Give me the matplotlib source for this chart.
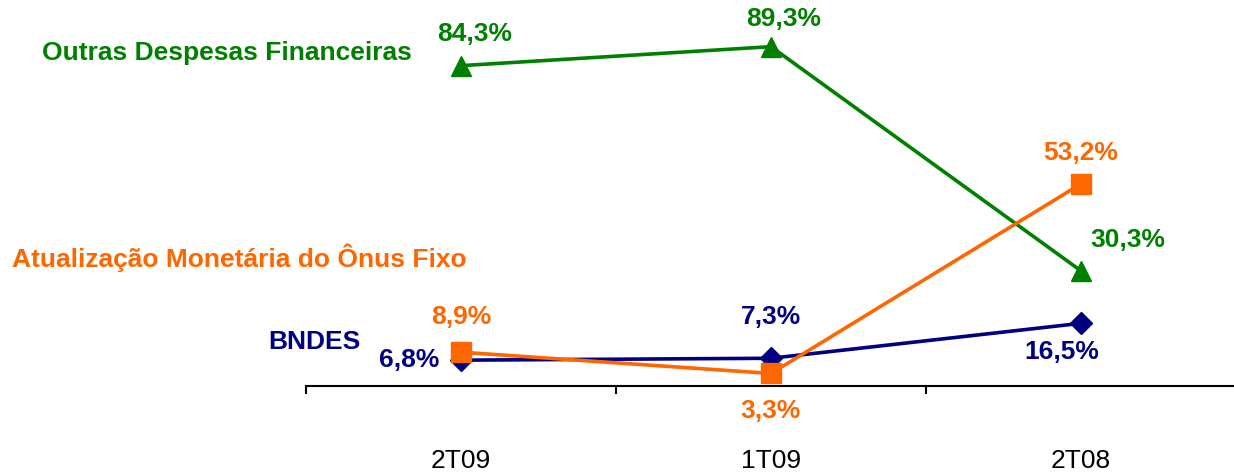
import matplotlib
matplotlib.use('Agg')
import matplotlib.pyplot as plt

plt.rcParams['font.family'] = ['Liberation Sans', 'DejaVu Sans']

periods = ['2T09', '1T09', '2T08']
outras = [84.3, 89.3, 30.3]
onus_fixo = [8.9, 3.3, 53.2]
bndes = [6.8, 7.3, 16.5]

GREEN = '#008000'
ORANGE = '#FF6600'
NAVY = '#000080'
FS = 19


def pct(v):
    return f'{v:.1f}%'.replace('.', ',')


fig = plt.figure(figsize=(12.34, 4.72), dpi=100)
ax = fig.add_axes([306 / 1234, 86 / 472, 930 / 1234, 380 / 472])

x = range(len(periods))
ax.plot(x, outras, color=GREEN, lw=2.6, marker='^', ms=14, zorder=3)
ax.plot(x, bndes, color=NAVY, lw=2.6, marker='D', ms=11, zorder=3)
ax.plot(x, onus_fixo, color=ORANGE, lw=2.6, marker='s', ms=14, zorder=4)

ax.set_xlim(-0.5, 2.5)
ax.set_ylim(0, 100)

# value labels: (series, color, per-point offsets in points)
label_spec = [
    (outras, GREEN, [(10, 23), (9, 20), (34, 22)]),
    (onus_fixo, ORANGE, [(0, 25), (0, -27), (0, 22)]),
    (bndes, NAVY, [(-37, 0), (0, 30), (-14, -21)]),
]
for vals, color, offsets in label_spec:
    for i, (v, off) in enumerate(zip(vals, offsets)):
        ax.annotate(pct(v), (i, v), xytext=off, textcoords='offset points',
                    ha='center', va='center', color=color,
                    fontsize=FS, fontweight='bold')

# series names on the left
fig.text(42 / 1234, 1 - 53 / 472, 'Outras Despesas Financeiras', color=GREEN,
         fontsize=FS, fontweight='bold', ha='left', va='center')
fig.text(12 / 1234, 1 - 258 / 472, 'Atualização Monetária do Ônus Fixo', color=ORANGE,
         fontsize=FS, fontweight='bold', ha='left', va='center')
fig.text(268 / 1234, 1 - 342 / 472, 'BNDES', color=NAVY,
         fontsize=FS, fontweight='bold', ha='left', va='center')

for side in ['top', 'right', 'left']:
    ax.spines[side].set_visible(False)
ax.spines['bottom'].set_linewidth(1.5)
ax.set_yticks([])

ax.set_xticks(list(x))
ax.set_xticklabels(periods, fontsize=FS)
ax.tick_params(axis='x', which='major', length=0, pad=45)
ax.set_xticks([-0.5, 0.5, 1.5, 2.5], minor=True)
ax.tick_params(axis='x', which='minor', length=6, width=1.5, direction='out')

fig.savefig('out.png', dpi=100)
